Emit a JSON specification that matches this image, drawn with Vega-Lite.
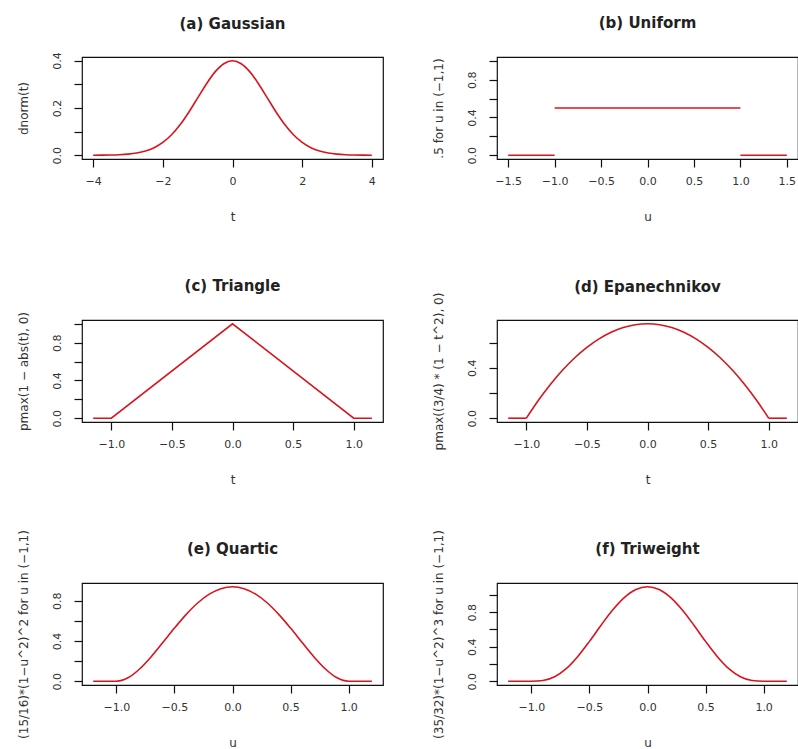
{
  "$schema": "https://vega.github.io/schema/vega-lite/v6.json",
  "background": "white",
  "padding": {"left": 16, "top": 15, "right": 0, "bottom": 0},
  "datasets": {
    "gauss": [
      {"t": -4, "d": 0.00013}, {"t": -3.75, "d": 0.00035}, {"t": -3.5, "d": 0.00087}, {"t": -3.25, "d": 0.00203},
      {"t": -3, "d": 0.00443}, {"t": -2.75, "d": 0.00909}, {"t": -2.5, "d": 0.01753}, {"t": -2.25, "d": 0.03174},
      {"t": -2, "d": 0.05399}, {"t": -1.75, "d": 0.08628}, {"t": -1.5, "d": 0.12952}, {"t": -1.25, "d": 0.18265},
      {"t": -1, "d": 0.24197}, {"t": -0.75, "d": 0.30114}, {"t": -0.5, "d": 0.35207}, {"t": -0.25, "d": 0.38667},
      {"t": 0, "d": 0.39894},
      {"t": 0.25, "d": 0.38667}, {"t": 0.5, "d": 0.35207}, {"t": 0.75, "d": 0.30114}, {"t": 1, "d": 0.24197},
      {"t": 1.25, "d": 0.18265}, {"t": 1.5, "d": 0.12952}, {"t": 1.75, "d": 0.08628}, {"t": 2, "d": 0.05399},
      {"t": 2.25, "d": 0.03174}, {"t": 2.5, "d": 0.01753}, {"t": 2.75, "d": 0.00909}, {"t": 3, "d": 0.00443},
      {"t": 3.25, "d": 0.00203}, {"t": 3.5, "d": 0.00087}, {"t": 3.75, "d": 0.00035}, {"t": 4, "d": 0.00013}
    ],
    "uniform": [
      {"u": -1.5, "k": 0, "seg": "a"}, {"u": -1, "k": 0, "seg": "a"},
      {"u": -1, "k": 0.5, "seg": "b"}, {"u": 1, "k": 0.5, "seg": "b"},
      {"u": 1, "k": 0, "seg": "c"}, {"u": 1.5, "k": 0, "seg": "c"}
    ],
    "triangle": [
      {"t": -1.15, "k": 0}, {"t": -1, "k": 0}, {"t": 0, "k": 1}, {"t": 1, "k": 0}, {"t": 1.15, "k": 0}
    ],
    "epan": [
      {"t": -1.15, "k": 0, "seg": "a"}, {"t": -1, "k": 0, "seg": "a"},
      {"t": -1, "k": 0, "seg": "b"}, {"t": -0.9, "k": 0.1425, "seg": "b"}, {"t": -0.8, "k": 0.27, "seg": "b"}, {"t": -0.7, "k": 0.3825, "seg": "b"},
      {"t": -0.6, "k": 0.48, "seg": "b"}, {"t": -0.5, "k": 0.5625, "seg": "b"}, {"t": -0.4, "k": 0.63, "seg": "b"}, {"t": -0.3, "k": 0.6825, "seg": "b"}, {"t": -0.2, "k": 0.72, "seg": "b"},
      {"t": -0.1, "k": 0.7425, "seg": "b"}, {"t": 0, "k": 0.75, "seg": "b"}, {"t": 0.1, "k": 0.7425, "seg": "b"}, {"t": 0.2, "k": 0.72, "seg": "b"}, {"t": 0.3, "k": 0.6825, "seg": "b"},
      {"t": 0.4, "k": 0.63, "seg": "b"}, {"t": 0.5, "k": 0.5625, "seg": "b"}, {"t": 0.6, "k": 0.48, "seg": "b"}, {"t": 0.7, "k": 0.3825, "seg": "b"}, {"t": 0.8, "k": 0.27, "seg": "b"},
      {"t": 0.9, "k": 0.1425, "seg": "b"}, {"t": 1, "k": 0, "seg": "b"},
      {"t": 1, "k": 0, "seg": "c"}, {"t": 1.15, "k": 0, "seg": "c"}
    ],
    "quartic": [
      {"u": -1.2, "k": 0}, {"u": -1.1, "k": 0}, {"u": -1, "k": 0}, {"u": -0.9, "k": 0.03384}, {"u": -0.8, "k": 0.1215},
      {"u": -0.7, "k": 0.24384}, {"u": -0.6, "k": 0.384}, {"u": -0.5, "k": 0.52734}, {"u": -0.4, "k": 0.6615},
      {"u": -0.3, "k": 0.77634}, {"u": -0.2, "k": 0.864}, {"u": -0.1, "k": 0.91884}, {"u": 0, "k": 0.9375},
      {"u": 0.1, "k": 0.91884}, {"u": 0.2, "k": 0.864}, {"u": 0.3, "k": 0.77634}, {"u": 0.4, "k": 0.6615},
      {"u": 0.5, "k": 0.52734}, {"u": 0.6, "k": 0.384}, {"u": 0.7, "k": 0.24384}, {"u": 0.8, "k": 0.1215},
      {"u": 0.9, "k": 0.03384}, {"u": 1, "k": 0}, {"u": 1.1, "k": 0}, {"u": 1.2, "k": 0}
    ],
    "triweight": [
      {"u": -1.2, "k": 0}, {"u": -1.1, "k": 0}, {"u": -1, "k": 0}, {"u": -0.9, "k": 0.0075}, {"u": -0.8, "k": 0.05103},
      {"u": -0.7, "k": 0.14509}, {"u": -0.6, "k": 0.28672}, {"u": -0.5, "k": 0.46143}, {"u": -0.4, "k": 0.64827},
      {"u": -0.3, "k": 0.82422}, {"u": -0.2, "k": 0.96768}, {"u": -0.1, "k": 1.06127}, {"u": 0, "k": 1.09375},
      {"u": 0.1, "k": 1.06127}, {"u": 0.2, "k": 0.96768}, {"u": 0.3, "k": 0.82422}, {"u": 0.4, "k": 0.64827},
      {"u": 0.5, "k": 0.46143}, {"u": 0.6, "k": 0.28672}, {"u": 0.7, "k": 0.14509}, {"u": 0.8, "k": 0.05103},
      {"u": 0.9, "k": 0.0075}, {"u": 1, "k": 0}, {"u": 1.1, "k": 0}, {"u": 1.2, "k": 0}
    ]
  },
  "columns": 2,
  "bounds": "flush",
  "spacing": {"row": 161, "column": 114},
  "concat": [
    {
      "title": {"text": "(a) Gaussian", "offset": 20},
      "width": 301, "height": 102,
      "data": {"name": "gauss"},
      "mark": {"type": "line", "color": "#d8141c", "strokeWidth": 1.6, "interpolate": "monotone"},
      "encoding": {
        "x": {"field": "t", "type": "quantitative", "scale": {"domain": [-4.32, 4.32], "nice": false, "zero": false},
              "axis": {"title": "t", "values": [-4, -2, 0, 2, 4], "format": "d"}},
        "y": {"field": "d", "type": "quantitative", "scale": {"domain": [-0.016, 0.415], "nice": false, "zero": false},
              "axis": {"title": "dnorm(t)", "values": [0, 0.1, 0.2, 0.3, 0.4], "labelExpr": "round(datum.value*10) % 2 == 0 ? format(datum.value, '.1f') : ''"}}
      }
    },
    {
      "title": {"text": "(b) Uniform", "offset": 26},
      "width": 301, "height": 102,
      "data": {"name": "uniform"},
      "mark": {"type": "line", "color": "#d8141c", "strokeWidth": 1.6},
      "encoding": {
        "x": {"field": "u", "type": "quantitative", "scale": {"domain": [-1.62, 1.62], "nice": false, "zero": false},
              "axis": {"title": "u", "values": [-1.5, -1, -0.5, 0, 0.5, 1, 1.5], "format": ".1f"}},
        "y": {"field": "k", "type": "quantitative", "scale": {"domain": [-0.04, 1.04], "nice": false, "zero": false},
              "axis": {"title": ".5 for u in (−1,1)", "values": [0, 0.2, 0.4, 0.6, 0.8, 1], "labelExpr": "round(datum.value*5) % 2 == 0 ? format(datum.value, '.1f') : ''"}},
        "detail": {"field": "seg"}
      }
    },
    {
      "title": {"text": "(c) Triangle", "offset": 18},
      "width": 301, "height": 102,
      "data": {"name": "triangle"},
      "mark": {"type": "line", "color": "#d8141c", "strokeWidth": 1.6},
      "encoding": {
        "x": {"field": "t", "type": "quantitative", "scale": {"domain": [-1.242, 1.242], "nice": false, "zero": false},
              "axis": {"title": "t", "values": [-1, -0.5, 0, 0.5, 1], "format": ".1f"}},
        "y": {"field": "k", "type": "quantitative", "scale": {"domain": [-0.04, 1.04], "nice": false, "zero": false},
              "axis": {"title": "pmax(1 − abs(t), 0)", "values": [0, 0.2, 0.4, 0.6, 0.8, 1], "labelExpr": "round(datum.value*5) % 2 == 0 ? format(datum.value, '.1f') : ''"}}
      }
    },
    {
      "title": {"text": "(d) Epanechnikov", "offset": -3},
      "width": 301, "height": 102,
      "data": {"name": "epan"},
      "mark": {"type": "line", "color": "#d8141c", "strokeWidth": 1.6, "interpolate": "monotone"},
      "encoding": {
        "x": {"field": "t", "type": "quantitative", "scale": {"domain": [-1.242, 1.242], "nice": false, "zero": false},
              "axis": {"title": "t", "values": [-1, -0.5, 0, 0.5, 1], "format": ".1f"}},
        "y": {"field": "k", "type": "quantitative", "scale": {"domain": [-0.03, 0.78], "nice": false, "zero": false},
              "axis": {"title": "pmax((3/4) * (1 − t^2), 0)", "values": [0, 0.2, 0.4, 0.6], "labelExpr": "round(datum.value*5) % 2 == 0 ? format(datum.value, '.1f') : ''"}},
        "detail": {"field": "seg"}
      }
    },
    {
      "title": {"text": "(e) Quartic", "offset": -27},
      "width": 301, "height": 102,
      "data": {"name": "quartic"},
      "mark": {"type": "line", "color": "#d8141c", "strokeWidth": 1.6, "interpolate": "monotone"},
      "encoding": {
        "x": {"field": "u", "type": "quantitative", "scale": {"domain": [-1.296, 1.296], "nice": false, "zero": false},
              "axis": {"title": "u", "values": [-1, -0.5, 0, 0.5, 1], "format": ".1f"}},
        "y": {"field": "k", "type": "quantitative", "scale": {"domain": [-0.0375, 0.975], "nice": false, "zero": false},
              "axis": {"title": "(15/16)*(1−u^2)^2 for u in (−1,1)", "values": [0, 0.2, 0.4, 0.6, 0.8], "labelExpr": "round(datum.value*5) % 2 == 0 ? format(datum.value, '.1f') : ''"}}
      }
    },
    {
      "title": {"text": "(f) Triweight", "offset": -27},
      "width": 301, "height": 102,
      "data": {"name": "triweight"},
      "mark": {"type": "line", "color": "#d8141c", "strokeWidth": 1.6, "interpolate": "monotone"},
      "encoding": {
        "x": {"field": "u", "type": "quantitative", "scale": {"domain": [-1.296, 1.296], "nice": false, "zero": false},
              "axis": {"title": "u", "values": [-1, -0.5, 0, 0.5, 1], "format": ".1f"}},
        "y": {"field": "k", "type": "quantitative", "scale": {"domain": [-0.04375, 1.1375], "nice": false, "zero": false},
              "axis": {"title": "(35/32)*(1−u^2)^3 for u in (−1,1)", "values": [0, 0.2, 0.4, 0.6, 0.8, 1], "labelExpr": "round(datum.value*5) % 2 == 0 ? format(datum.value, '.1f') : ''"}}
      }
    }
  ],
  "config": {
    "view": {"stroke": "#111", "strokeWidth": 1.2},
    "title": {"font": "DejaVu Sans", "fontSize": 15, "fontWeight": "bold", "color": "#222", "anchor": "middle", "frame": "group", "baseline": "bottom"},
    "axis": {
      "grid": false, "domain": false, "ticks": true, "tickColor": "#111", "tickSize": 8, "tickWidth": 1.2,
      "labelFont": "DejaVu Sans", "labelFontSize": 11, "labelColor": "#333",
      "titleFont": "DejaVu Sans", "titleFontSize": 12, "titleFontWeight": "normal", "titleColor": "#333",
      "labelOverlap": false
    },
    "axisX": {"labelPadding": 8, "titlePadding": 25},
    "axisY": {"labelAngle": 270, "labelAlign": "center", "labelBaseline": "bottom", "labelPadding": 12, "titlePadding": 21}
  }
}
